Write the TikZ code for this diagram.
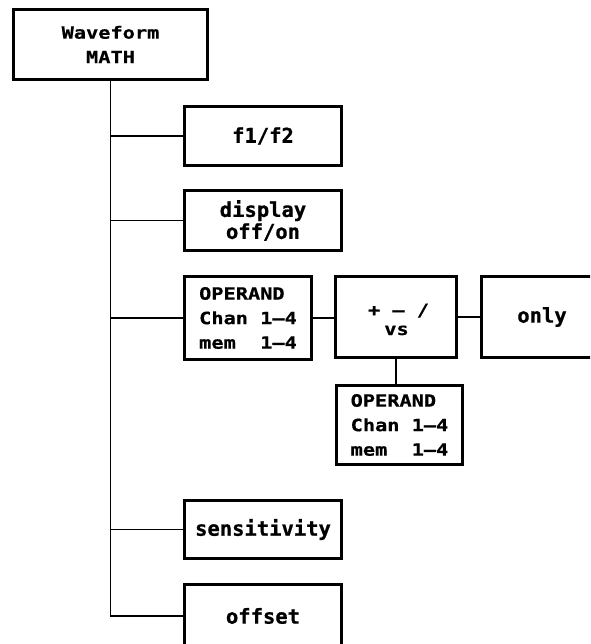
\documentclass[tikz,border=0pt]{standalone}
\usepackage{fontspec}
\newfontfamily\bigf[FakeBold=0.8]{DejaVu Sans Mono Bold}
\newfontfamily\smallf[FakeStretch=1.2,FakeBold=0.6]{DejaVu Sans Mono Bold}
\tikzset{
  box/.style={draw=black, line width=3.6pt, rectangle, inner sep=0pt, outer sep=0pt},
  bigtext/.style={font={\bigf\fontsize{20.5}{22}\selectfont}, align=center},
  smalltext/.style={font={\smallf\fontsize{16.9}{24.5}\selectfont}},
  conn/.style={draw=black, line width=1.9pt}
}
\begin{document}
\begin{tikzpicture}[x=1pt, y=-1pt]
\useasboundingbox (0,0) rectangle (590,644);
\clip (0,0) rectangle (590,644);
\fill[white] (0,0) rectangle (590,644);
% boxes
\node[box, smalltext, align=center, minimum width=194pt, minimum height=70pt] (wave) at (110.5,44.5) {Waveform\\MATH};
\node[box, bigtext, minimum width=157pt, minimum height=59pt] (f1) at (263,136) {f1/f2};
\node[box, bigtext, minimum width=157pt, minimum height=60pt] (disp) at (263,220.5) {display\\off/on};
\node[box, smalltext, align=left, minimum width=127pt, minimum height=83pt] (op1) at (248,318) {OPERAND\\Chan 1—4\\mem\ \ 1—4};
\node[box, minimum width=121pt, minimum height=81pt] (ops) at (396,317) {};
\node[smalltext, anchor=base, inner sep=0pt] (opsa) at (398.5,316) {+ — /};
\node[smalltext, anchor=base, inner sep=0pt] (opsb) at (396.5,335) {vs};
\node[box, bigtext, minimum width=127pt, minimum height=81pt] (only) at (545,317) {\hspace*{-6pt}only};
\node[box, smalltext, align=left, minimum width=126pt, minimum height=79pt] (op2) at (399.5,425) {OPERAND\\Chan 1—4\\mem\ \ 1—4};
\node[box, bigtext, minimum width=157pt, minimum height=58pt] (sens) at (263,529.5) {sensitivity};
\node[box, bigtext, minimum width=157pt, minimum height=63pt] (off) at (263,616) {offset};
% connectors
\draw[conn] (wave.south) |- (off.west);
\draw[conn] (wave.south |- f1.west) -- (f1.west);
\draw[conn] (wave.south |- disp.west) -- (disp.west);
\draw[conn] (wave.south |- op1.west) -- (op1.west);
\draw[conn] (wave.south |- sens.west) -- (sens.west);
\draw[conn] (op1.east) -- (op1.east -| ops.west);
\draw[conn] (ops.east) -- (ops.east -| only.west);
\draw[conn] (ops.south) -- (ops.south |- op2.north);
\end{tikzpicture}
\end{document}
